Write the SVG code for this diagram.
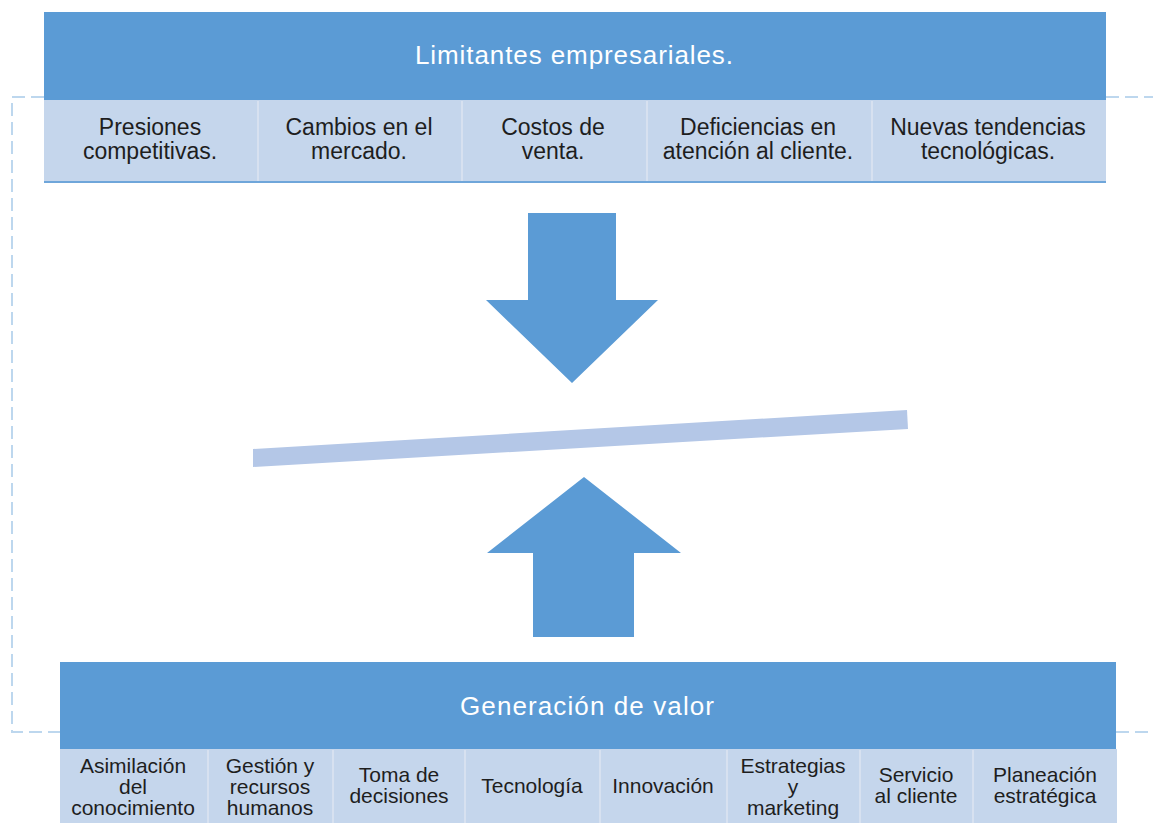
<svg xmlns="http://www.w3.org/2000/svg" width="1153" height="823" viewBox="0 0 1153 823">
  <style>
    .hdr { fill: #5B9BD5; }
    .sub { fill: #C5D6EC; }
    .div { stroke: #DCE5F2; stroke-width: 1.5; }
    .hdr-text { font-family: "Liberation Sans", Arial, sans-serif; font-size: 26px; fill: #FFFFFF; text-anchor: middle; }
    .cell-top { font-family: "Liberation Sans", Arial, sans-serif; font-size: 23px; fill: #1E1E1E; text-anchor: middle; }
    .cell-bot { font-family: "Liberation Sans", Arial, sans-serif; font-size: 21px; fill: #1E1E1E; text-anchor: middle; }
    .arrow { fill: #5B9BD5; }
    .dash { fill: none; stroke: #BDD7EE; stroke-width: 2; stroke-dasharray: 13 6; }
  </style>

  <rect width="1153" height="823" fill="#FFFFFF"/>

  <!-- dashed frame lines -->
  <g id="connectors">
    <path class="dash" d="M44 97 H12 V732 H60"/>
    <path class="dash" d="M1106 97 H1153"/>
    <path class="dash" d="M1116 732 H1153"/>
  </g>

  <!-- upper block: business constraints -->
  <g id="limitantes">
    <rect class="hdr" x="44" y="12" width="1062" height="88"/>
    <text class="hdr-text" x="574" y="64" textLength="318" lengthAdjust="spacing">Limitantes empresariales.</text>
    <rect class="sub" x="44" y="100" width="1062" height="83"/>
    <line x1="44" y1="182" x2="1106" y2="182" stroke="#6FA6DA" stroke-width="2"/>
    <line class="div" x1="258" y1="101" x2="258" y2="181"/>
    <line class="div" x1="462" y1="101" x2="462" y2="181"/>
    <line class="div" x1="647" y1="101" x2="647" y2="181"/>
    <line class="div" x1="872" y1="101" x2="872" y2="181"/>
  </g>
  <g id="presiones">
    <text class="cell-top" x="150" y="135">Presiones</text>
    <text class="cell-top" x="150" y="159">competitivas.</text>
  </g>
  <g id="cambios">
    <text class="cell-top" x="359" y="135">Cambios en el</text>
    <text class="cell-top" x="359" y="159">mercado.</text>
  </g>
  <g id="costos">
    <text class="cell-top" x="553" y="135">Costos de</text>
    <text class="cell-top" x="553" y="159">venta.</text>
  </g>
  <g id="deficiencias">
    <text class="cell-top" x="758" y="135">Deficiencias en</text>
    <text class="cell-top" x="758" y="159">atención al cliente.</text>
  </g>
  <g id="tendencias">
    <text class="cell-top" x="988" y="135">Nuevas tendencias</text>
    <text class="cell-top" x="988" y="159">tecnológicas.</text>
  </g>

  <!-- pressure arrows and balance beam -->
  <g id="flecha-abajo">
    <polygon class="arrow" points="528,213 616,213 616,300 658,300 572,383 486,300 528,300"/>
  </g>
  <g id="balanza">
    <polygon fill="#B4C7E7" points="253,449 907,410 908,429 253,467"/>
  </g>
  <g id="flecha-arriba">
    <polygon class="arrow" points="584,477 681,553 634,553 634,637 533,637 533,553 487,553"/>
  </g>

  <!-- lower block: value generation -->
  <g id="generacion">
    <rect class="hdr" x="60" y="662" width="1056" height="87"/>
    <text class="hdr-text" x="587" y="715" textLength="254" lengthAdjust="spacing">Generación de valor</text>
    <rect class="sub" x="60" y="749" width="1057" height="74"/>
    <line class="div" x1="208" y1="750" x2="208" y2="823"/>
    <line class="div" x1="333" y1="750" x2="333" y2="823"/>
    <line class="div" x1="465" y1="750" x2="465" y2="823"/>
    <line class="div" x1="600" y1="750" x2="600" y2="823"/>
    <line class="div" x1="727" y1="750" x2="727" y2="823"/>
    <line class="div" x1="860" y1="750" x2="860" y2="823"/>
    <line class="div" x1="973" y1="750" x2="973" y2="823"/>
  </g>
  <g id="asimilacion">
    <text class="cell-bot" x="133" y="773">Asimilación</text>
    <text class="cell-bot" x="133" y="794">del</text>
    <text class="cell-bot" x="133" y="815">conocimiento</text>
  </g>
  <g id="gestion">
    <text class="cell-bot" x="270" y="773">Gestión y</text>
    <text class="cell-bot" x="270" y="794">recursos</text>
    <text class="cell-bot" x="270" y="815">humanos</text>
  </g>
  <g id="toma">
    <text class="cell-bot" x="399" y="782">Toma de</text>
    <text class="cell-bot" x="399" y="803">decisiones</text>
  </g>
  <g id="tecnologia">
    <text class="cell-bot" x="532" y="793">Tecnología</text>
  </g>
  <g id="innovacion">
    <text class="cell-bot" x="663" y="793">Innovación</text>
  </g>
  <g id="estrategias">
    <text class="cell-bot" x="793" y="773">Estrategias</text>
    <text class="cell-bot" x="793" y="794">y</text>
    <text class="cell-bot" x="793" y="815">marketing</text>
  </g>
  <g id="servicio">
    <text class="cell-bot" x="916" y="782">Servicio</text>
    <text class="cell-bot" x="916" y="803">al cliente</text>
  </g>
  <g id="planeacion">
    <text class="cell-bot" x="1045" y="782">Planeación</text>
    <text class="cell-bot" x="1045" y="803">estratégica</text>
  </g>
</svg>
